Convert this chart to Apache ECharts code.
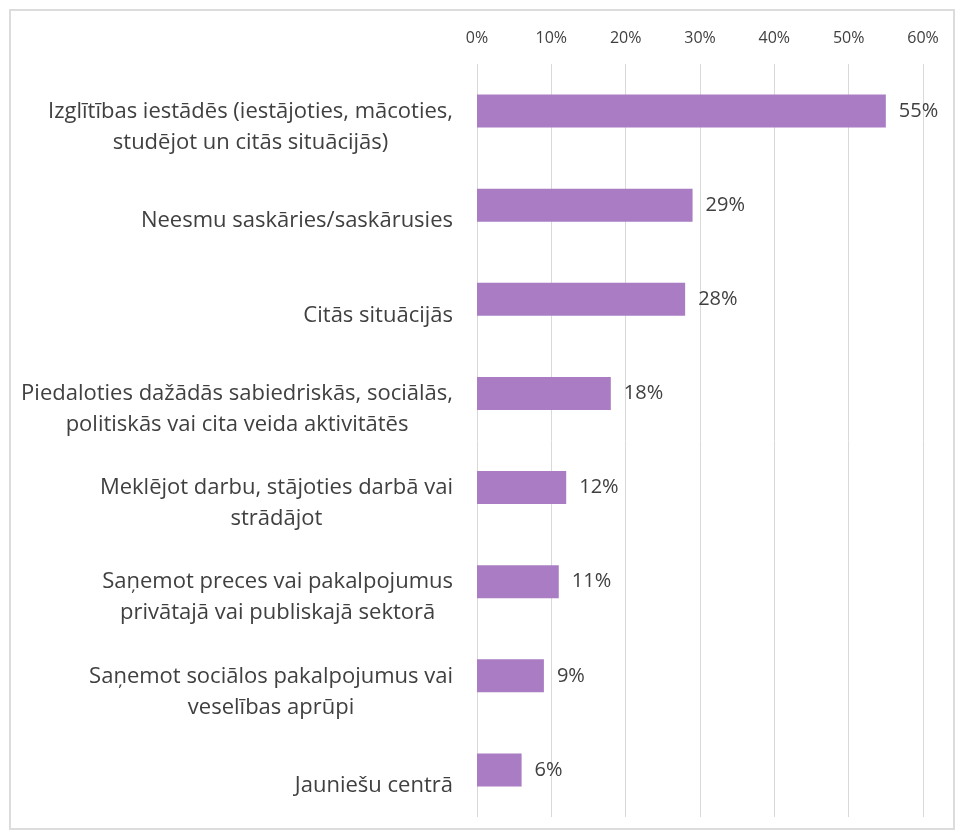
<!DOCTYPE html>
<html>
<head>
<meta charset="utf-8">
<script src="https://cdn.jsdelivr.net/npm/echarts@6/dist/echarts.min.js"></script>
<style>
  html, body { margin: 0; padding: 0; background: #fff; }
  #chart { width: 956px; height: 836px; }
</style>
</head>
<body>
<div id="chart"></div>
<script>
const categories = [
  'Izglītības iestādēs (iestājoties, mācoties,\nstudējot un citās situācijās)',
  'Neesmu saskāries/saskārusies',
  'Citās situācijās',
  'Piedaloties dažādās sabiedriskās, sociālās,\npolitiskās vai cita veida aktivitātēs',
  'Meklējot darbu, stājoties darbā vai\nstrādājot',
  'Saņemot preces vai pakalpojumus\nprivātajā vai publiskajā sektorā',
  'Saņemot sociālos pakalpojumus vai\nveselības aprūpi',
  'Jauniešu centrā'
]
const values = [55, 29, 28, 18, 12, 11, 9, 6]
const tickMin = 0
const tickMax = 60
const tickStep = 10

const textColor = '#404040'
const barColor = '#a97cc4'
const font = 'Open Sans'

const chart = echarts.init(document.getElementById('chart'))

chart.setOption({
  backgroundColor: '#fff',
  animation: false,
  graphic: [{
    type: 'rect',
    shape: { x: 10, y: 10, width: 944, height: 819 },
    style: { fill: 'none', stroke: '#dcdcdc', lineWidth: 2 },
    silent: true
  }],
  grid: {
    left: 477,
    right: 33,
    top: 64,
    bottom: 19
  },
  xAxis: {
    type: 'value',
    position: 'top',
    min: tickMin,
    max: tickMax,
    interval: tickStep,
    axisLine: { show: false },
    axisTick: { show: false },
    axisLabel: {
      formatter: '{value}%',
      color: textColor,
      fontSize: 16,
      fontFamily: font,
      margin: 18
    },
    splitLine: { lineStyle: { color: '#d9d9d9', width: 1 } }
  },
  yAxis: {
    type: 'category',
    inverse: true,
    data: categories,
    axisLine: { show: false },
    axisTick: { show: false },
    axisLabel: {
      margin: 24,
      padding: [32, 0, 0, 0],
      formatter: (v) => v.split('\n').map((line) => '{c|' + line + '}').join('\n'),
      rich: {
        c: {
          align: 'center',
          color: textColor,
          fontSize: 22,
          fontFamily: font,
          lineHeight: 31
        }
      }
    }
  },
  series: [{
    type: 'bar',
    data: values,
    barWidth: 33,
    itemStyle: { color: barColor },
    label: {
      show: true,
      position: 'right',
      distance: 13,
      formatter: '{c}%',
      color: textColor,
      fontSize: 20,
      fontFamily: font
    }
  }]
})
</script>
</body>
</html>
